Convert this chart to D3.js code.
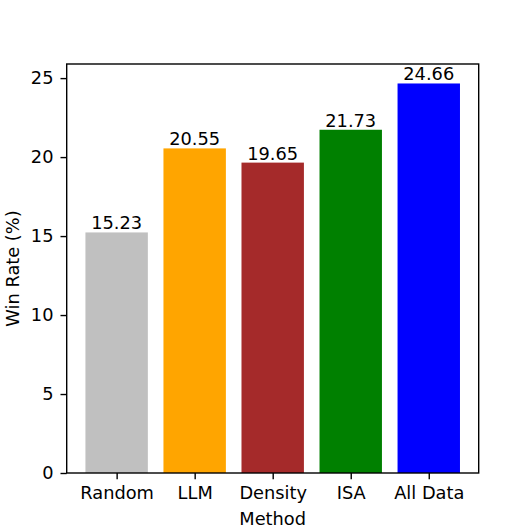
<!DOCTYPE html>
<html>
<head>
<meta charset="utf-8">
<script src="https://cdn.jsdelivr.net/npm/d3@7"></script>
<style>
  body { margin: 0; background: #fff; }
  text { font-family: "DejaVu Sans", sans-serif; fill: #000; }
</style>
</head>
<body>
<div id="chart"></div>
<script>
// chart values
const methods = ["Random", "LLM", "Density", "ISA", "All Data"];
const winRates = [15.23, 20.55, 19.65, 21.73, 24.66];
const barColors = ["#c0c0c0", "#ffa500", "#a52a2a", "#008000", "#0000ff"];
const yTicks = [0, 5, 10, 15, 20, 25];

const width = 532, height = 532;
const margin = {top: 64, right: 53.3, bottom: 59, left: 66.7};
const innerW = width - margin.left - margin.right;
const innerH = height - margin.top - margin.bottom;
const fontSize = 17.8;

const svg = d3.select("#chart").append("svg")
    .attr("width", width)
    .attr("height", height);

const chart = svg.append("g")
    .attr("transform", `translate(${margin.left},${margin.top})`);

// linear x in category units, like matplotlib with 5% margins
const x = d3.scaleLinear()
    .domain([-0.64, methods.length - 1 + 0.64])
    .range([0, innerW]);

const y = d3.scaleLinear()
    .domain([0, d3.max(winRates) * 1.05])
    .range([innerH, 0]);

const barW = 0.8;

chart.selectAll("rect.bar")
    .data(winRates)
    .enter()
    .append("rect")
    .attr("class", "bar")
    .attr("x", (d, i) => x(i - barW / 2))
    .attr("width", x(barW) - x(0))
    .attr("y", d => y(d))
    .attr("height", d => y(0) - y(d))
    .attr("fill", (d, i) => barColors[i]);

chart.selectAll("text.val")
    .data(winRates)
    .enter()
    .append("text")
    .attr("class", "val")
    .attr("x", (d, i) => x(i))
    .attr("y", d => y(d) - 3)
    .attr("text-anchor", "middle")
    .style("font-size", fontSize + "px")
    .text(d => d.toFixed(2));

// axes
const tickLen = 6.2;
const yAxis = d3.axisLeft(y).tickValues(yTicks).tickSize(tickLen).tickPadding(7);
const xAxis = d3.axisBottom(x).tickValues(d3.range(methods.length))
    .tickFormat(i => methods[i]).tickSize(tickLen).tickPadding(7);

const gy = chart.append("g").call(yAxis);
const gx = chart.append("g").attr("transform", `translate(0,${innerH})`).call(xAxis);

[gx, gy].forEach(g => {
    g.select(".domain").remove();
    g.selectAll(".tick line").attr("stroke", "#000").attr("stroke-width", 1.4);
    g.selectAll(".tick text").style("font-size", fontSize + "px")
        .style("font-family", "DejaVu Sans");
});

// frame
chart.append("rect")
    .attr("x", 0).attr("y", 0)
    .attr("width", innerW).attr("height", innerH)
    .attr("fill", "none")
    .attr("stroke", "#000")
    .attr("stroke-width", 1.4);

// labels
chart.append("text")
    .attr("x", innerW / 2)
    .attr("y", innerH + 52)
    .attr("text-anchor", "middle")
    .style("font-size", fontSize + "px")
    .text("Method");

svg.append("text")
    .attr("transform", `translate(19,${margin.top + innerH / 2}) rotate(-90)`)
    .attr("text-anchor", "middle")
    .style("font-size", fontSize + "px")
    .text("Win Rate (%)");
</script>
</body>
</html>
